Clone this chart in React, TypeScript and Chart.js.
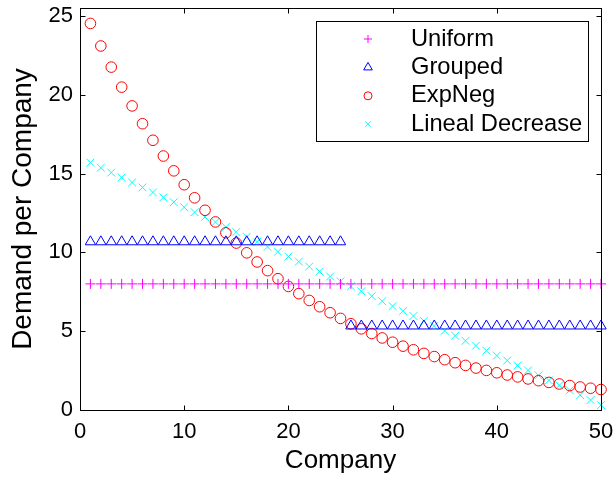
import React, { useEffect, useRef } from "react";
import { Chart, registerables } from "chart.js";

Chart.register(...registerables);

const companies = [
  1, 2, 3, 4, 5, 6, 7, 8, 9, 10, 11, 12, 13, 14, 15, 16, 17, 18, 19, 20, 21, 22, 23, 24, 25,
  26, 27, 28, 29, 30, 31, 32, 33, 34, 35, 36, 37, 38, 39, 40, 41, 42, 43, 44, 45, 46, 47, 48, 49, 50,
];

const uniform = [
  8, 8, 8, 8, 8, 8, 8, 8, 8, 8, 8, 8, 8, 8, 8, 8, 8, 8, 8, 8, 8, 8, 8, 8, 8,
  8, 8, 8, 8, 8, 8, 8, 8, 8, 8, 8, 8, 8, 8, 8, 8, 8, 8, 8, 8, 8, 8, 8, 8, 8,
];

const grouped = [
  10.67, 10.67, 10.67, 10.67, 10.67, 10.67, 10.67, 10.67, 10.67, 10.67, 10.67, 10.67, 10.67,
  10.67, 10.67, 10.67, 10.67, 10.67, 10.67, 10.67, 10.67, 10.67, 10.67, 10.67, 10.67,
  5.33, 5.33, 5.33, 5.33, 5.33, 5.33, 5.33, 5.33, 5.33, 5.33, 5.33, 5.33, 5.33,
  5.33, 5.33, 5.33, 5.33, 5.33, 5.33, 5.33, 5.33, 5.33, 5.33, 5.33, 5.33,
];

const expNeg = [
  24.52, 23.09, 21.75, 20.48, 19.29, 18.16, 17.11, 16.11, 15.17, 14.29,
  13.46, 12.67, 11.93, 11.24, 10.59, 9.97, 9.39, 8.84, 8.33, 7.84,
  7.38, 6.95, 6.55, 6.17, 5.81, 5.47, 5.15, 4.85, 4.57, 4.3,
  4.05, 3.82, 3.59, 3.39, 3.19, 3.0, 2.83, 2.66, 2.51, 2.36,
  2.22, 2.1, 1.97, 1.86, 1.75, 1.65, 1.55, 1.46, 1.38, 1.3,
];

const linealDecrease = [
  15.69, 15.37, 15.06, 14.75, 14.43, 14.12, 13.8, 13.49, 13.18, 12.86,
  12.55, 12.24, 11.92, 11.61, 11.29, 10.98, 10.67, 10.35, 10.04, 9.73,
  9.41, 9.1, 8.78, 8.47, 8.16, 7.84, 7.53, 7.22, 6.9, 6.59,
  6.27, 5.96, 5.65, 5.33, 5.02, 4.71, 4.39, 4.08, 3.76, 3.45,
  3.14, 2.82, 2.51, 2.2, 1.88, 1.57, 1.25, 0.94, 0.63, 0.31,
];

const seriesNames = ["Uniform", "Grouped", "ExpNeg", "Lineal Decrease"];
const xTicks = [0, 10, 20, 30, 40, 50];
const yTicks = [0, 5, 10, 15, 20, 25];

const FONT = '"Liberation Sans", Arial, Helvetica, sans-serif';

const toPoints = (ys: number[]) => companies.map((x, i) => ({ x, y: ys[i] }));

function drawMarker(
  ctx: CanvasRenderingContext2D,
  style: string,
  x: number,
  y: number,
  r: number,
  color: string
) {
  ctx.save();
  ctx.strokeStyle = color;
  ctx.lineWidth = 1;
  ctx.beginPath();
  if (style === "cross") {
    ctx.moveTo(x - r, y);
    ctx.lineTo(x + r, y);
    ctx.moveTo(x, y - r);
    ctx.lineTo(x, y + r);
  } else if (style === "crossRot") {
    const d = r * Math.SQRT1_2;
    ctx.moveTo(x - d, y - d);
    ctx.lineTo(x + d, y + d);
    ctx.moveTo(x - d, y + d);
    ctx.lineTo(x + d, y - d);
  } else if (style === "triangle") {
    const a = (2 * Math.PI) / 3;
    ctx.moveTo(x, y - r);
    ctx.lineTo(x + Math.sin(a) * r, y - Math.cos(a) * r);
    ctx.lineTo(x + Math.sin(2 * a) * r, y - Math.cos(2 * a) * r);
    ctx.closePath();
  } else {
    ctx.arc(x, y, r, 0, Math.PI * 2);
  }
  ctx.stroke();
  ctx.restore();
}

const framePlugin = {
  id: "matlabFrame",
  afterDraw(chart: any) {
    const { ctx, chartArea: a, scales } = chart;
    ctx.save();
    ctx.strokeStyle = "#000";
    ctx.lineWidth = 1;
    const L = Math.round(a.left) + 0.5;
    const R = Math.round(a.right) + 0.5;
    const T = Math.round(a.top) + 0.5;
    const B = Math.round(a.bottom) + 0.5;
    ctx.strokeRect(L, T, R - L, B - T);
    ctx.beginPath();
    xTicks.forEach((v) => {
      const px = Math.round(scales.x.getPixelForValue(v)) + 0.5;
      ctx.moveTo(px, B);
      ctx.lineTo(px, B - 5);
      ctx.moveTo(px, T);
      ctx.lineTo(px, T + 5);
    });
    yTicks.forEach((v) => {
      const py = Math.round(scales.y.getPixelForValue(v)) + 0.5;
      ctx.moveTo(L, py);
      ctx.lineTo(L + 5, py);
      ctx.moveTo(R, py);
      ctx.lineTo(R - 5, py);
    });
    ctx.stroke();

    // legend box
    const bx = 316.5;
    const by = 21.5;
    const bw = 272;
    const bh = 120;
    ctx.fillStyle = "#fff";
    ctx.fillRect(bx, by, bw, bh);
    ctx.strokeStyle = "#000";
    ctx.strokeRect(bx, by, bw, bh);
    ctx.font = `23.7px ${FONT}`;
    ctx.textBaseline = "middle";
    ctx.textAlign = "left";
    ctx.fillStyle = "#000";
    chart.data.datasets.forEach((ds: any, i: number) => {
      const yy = 39 + i * 28.4;
      drawMarker(ctx, ds.pointStyle, 368, yy, ds.legendRadius, ds.borderColor);
      ctx.fillText(ds.label, 411, yy);
    });
    ctx.restore();
  },
};

const zeroPadding = (s: any) => {
  s.paddingLeft = 0;
  s.paddingRight = 0;
  s.paddingTop = 0;
  s.paddingBottom = 0;
};

export default function App() {
  const ref = useRef<HTMLCanvasElement | null>(null);

  useEffect(() => {
    if (!ref.current) return;
    const common = {
      showLine: false,
      clip: false as any,
      borderWidth: 1,
      pointBorderWidth: 1,
      backgroundColor: "rgba(0,0,0,0)",
      pointBackgroundColor: "rgba(0,0,0,0)",
    };
    const chart = new Chart(ref.current, {
      type: "scatter",
      data: {
        datasets: [
          {
            ...common,
            label: seriesNames[0],
            data: toPoints(uniform),
            pointStyle: "cross",
            pointRadius: 5,
            borderColor: "#ff00ff",
            pointBorderColor: "#ff00ff",
            legendRadius: 4,
          } as any,
          {
            ...common,
            label: seriesNames[1],
            data: toPoints(grouped),
            pointStyle: "triangle",
            pointRadius: 6,
            borderColor: "#0000ff",
            pointBorderColor: "#0000ff",
            legendRadius: 5,
          } as any,
          {
            ...common,
            label: seriesNames[2],
            data: toPoints(expNeg),
            pointStyle: "circle",
            pointRadius: 5.3,
            borderColor: "#ff0000",
            pointBorderColor: "#ff0000",
            legendRadius: 4,
          } as any,
          {
            ...common,
            label: seriesNames[3],
            data: toPoints(linealDecrease),
            pointStyle: "crossRot",
            pointRadius: 5.5,
            borderColor: "#00ffff",
            pointBorderColor: "#00ffff",
            legendRadius: 4,
          } as any,
        ],
      },
      options: {
        responsive: false,
        animation: false,
        devicePixelRatio: 1,
        layout: { padding: { left: 0, right: 12, top: 8, bottom: 0 } },
        plugins: {
          legend: { display: false },
          tooltip: { enabled: false },
        },
        scales: {
          x: {
            type: "linear",
            min: 0,
            max: 50,
            grid: { display: false, drawTicks: false },
            border: { display: false },
            afterBuildTicks: (s: any) => {
              s.ticks = xTicks.map((v) => ({ value: v }));
            },
            afterFit: (s: any) => {
              s.height = 67;
              zeroPadding(s);
            },
            ticks: {
              color: "#000",
              padding: 9,
              maxRotation: 0,
              font: { family: FONT, size: 22 },
            },
            title: {
              display: true,
              text: "Company",
              color: "#000",
              font: { family: FONT, size: 26 },
              padding: { top: 0, bottom: 1 },
            },
          },
          y: {
            type: "linear",
            min: 0,
            max: 25.5,
            grid: { display: false, drawTicks: false },
            border: { display: false },
            afterBuildTicks: (s: any) => {
              s.ticks = yTicks.map((v) => ({ value: v }));
            },
            afterFit: (s: any) => {
              s.width = 80;
              zeroPadding(s);
            },
            ticks: {
              color: "#000",
              padding: 7,
              font: { family: FONT, size: 22 },
            },
            title: {
              display: true,
              text: "Demand per Company",
              color: "#000",
              font: { family: FONT, size: 28 },
              padding: { top: 6, bottom: 0 },
            },
          },
        },
      },
      plugins: [framePlugin],
    });
    return () => chart.destroy();
  }, []);

  return (
    <div
      style={{
        position: "absolute",
        left: 0,
        top: 0,
        width: 613,
        height: 477,
        background: "#fff",
      }}
    >
      <canvas ref={ref} width={613} height={477} style={{ display: "block" }} />
    </div>
  );
}
